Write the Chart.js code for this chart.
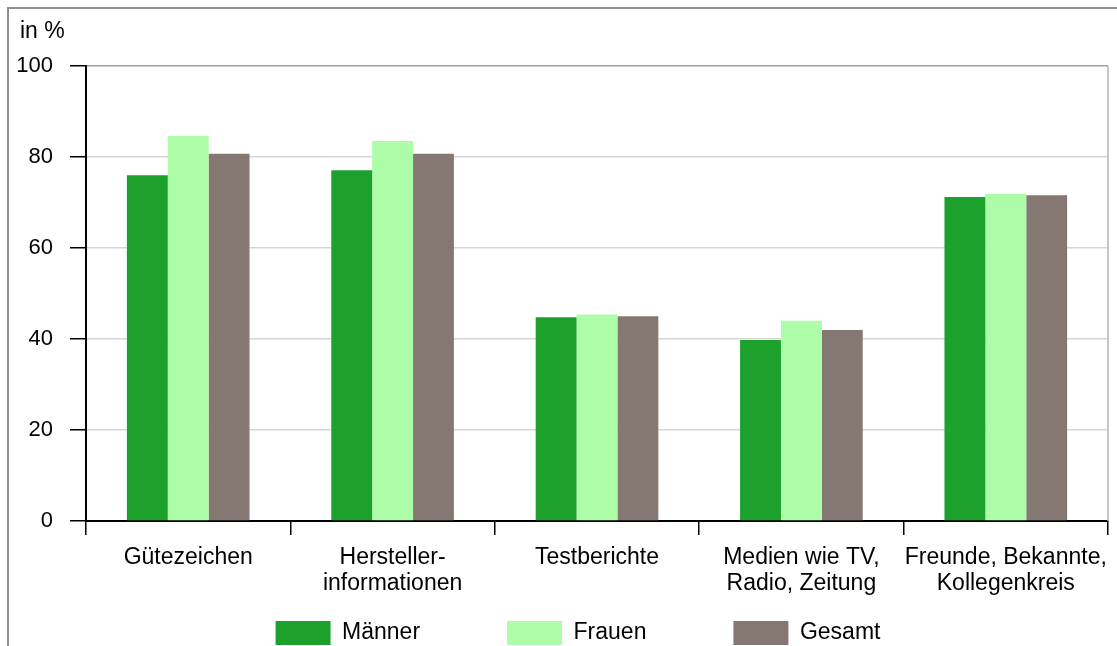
<!DOCTYPE html>
<html>
<head>
<meta charset="utf-8">
<script src="https://cdn.jsdelivr.net/npm/chart.js@4"></script>
<style>
  html, body { margin: 0; padding: 0; background: #fff; }
  canvas { display: block; }
</style>
</head>
<body>
<canvas id="chart" width="1117" height="646"></canvas>
<script>
const categories = [
    'Gütezeichen',
    ['Hersteller-', 'informationen'],
    'Testberichte',
    ['Medien wie TV,', 'Radio, Zeitung'],
    ['Freunde, Bekannte,', 'Kollegenkreis']
];
const maenner = [76.0, 77.1, 44.8, 39.8, 71.2];
const frauen = [84.6, 83.5, 45.4, 44.0, 71.9];
const gesamt = [80.7, 80.7, 45.0, 42.0, 71.6];
const yTicks = [0, 20, 40, 60, 80, 100];

const FONT = '"Liberation Sans", Arial, sans-serif';

// frame, unit label, grey right edge of the plot, legend placement
const decor = {
    id: 'decor',
    afterLayout(chart) {
        // legend sits right under the axis labels, a bit right of centre
        const lg = chart.legend;
        const dy = 534 - lg.top;
        lg.top += dy;
        lg.bottom += dy;
        lg.left += 20;
        lg.right += 20;
    },
    beforeDraw(chart) {
        const c = chart.ctx;
        c.save();
        c.fillStyle = '#fff';
        c.fillRect(0, 0, chart.width, chart.height);
        c.strokeStyle = '#8f8f8f';
        c.lineWidth = 2;
        c.beginPath();
        c.moveTo(8, chart.height);
        c.lineTo(8, 8);
        c.lineTo(chart.width, 8);
        c.stroke();
        c.fillStyle = '#000';
        c.font = '23px ' + FONT;
        c.textBaseline = 'alphabetic';
        c.fillText('in %', 20, 38);
        c.restore();
    },
    afterDatasetsDraw(chart) {
        const a = chart.chartArea;
        const c = chart.ctx;
        c.save();
        c.strokeStyle = '#b5b5b5';
        c.lineWidth = 1.5;
        c.beginPath();
        c.moveTo(a.right, a.top);
        c.lineTo(a.right, a.bottom);
        c.stroke();
        c.restore();
    }
};

new Chart(document.getElementById('chart'), {
    type: 'bar',
    data: {
        labels: categories,
        datasets: [
            { label: 'Männer', data: maenner, backgroundColor: '#1ca22c' },
            { label: 'Frauen', data: frauen, backgroundColor: '#adfca8' },
            { label: 'Gesamt', data: gesamt, backgroundColor: '#857872' }
        ]
    },
    options: {
        responsive: false,
        animation: false,
        devicePixelRatio: 1,
        categoryPercentage: 0.6,
        barPercentage: 1.0,
        layout: { padding: { left: 8, right: 9, top: 66, bottom: -71 } },
        plugins: {
            legend: {
                position: 'bottom',
                labels: {
                    boxWidth: 55,
                    boxHeight: 24,
                    padding: 87,
                    color: '#000',
                    font: { family: FONT, size: 23 }
                }
            },
            tooltip: { enabled: false }
        },
        scales: {
            x: {
                afterFit(scale) { scale.height = 75; },
                grid: {
                    offset: true,
                    drawOnChartArea: false,
                    tickLength: 14,
                    tickColor: '#000',
                    lineWidth: 1.5
                },
                border: { color: '#000', width: 2 },
                ticks: {
                    color: '#000',
                    padding: 9,
                    maxRotation: 0,
                    autoSkip: false,
                    font: { family: FONT, size: 23, lineHeight: 1.15 }
                }
            },
            y: {
                min: 0,
                max: 100,
                afterFit(scale) { scale.width = 78; },
                afterBuildTicks(scale) {
                    scale.ticks = yTicks.map(v => ({ value: v }));
                },
                grid: {
                    color: ctx => (ctx.tick && ctx.tick.value === 100) ? '#a0a0a0' : '#d6d6d6',
                    lineWidth: 1.5,
                    tickLength: 16,
                    tickColor: '#000'
                },
                border: { color: '#000', width: 2 },
                ticks: {
                    color: '#000',
                    padding: 17,
                    font: { family: FONT, size: 22 }
                }
            }
        }
    },
    plugins: [decor]
});
</script>
</body>
</html>
